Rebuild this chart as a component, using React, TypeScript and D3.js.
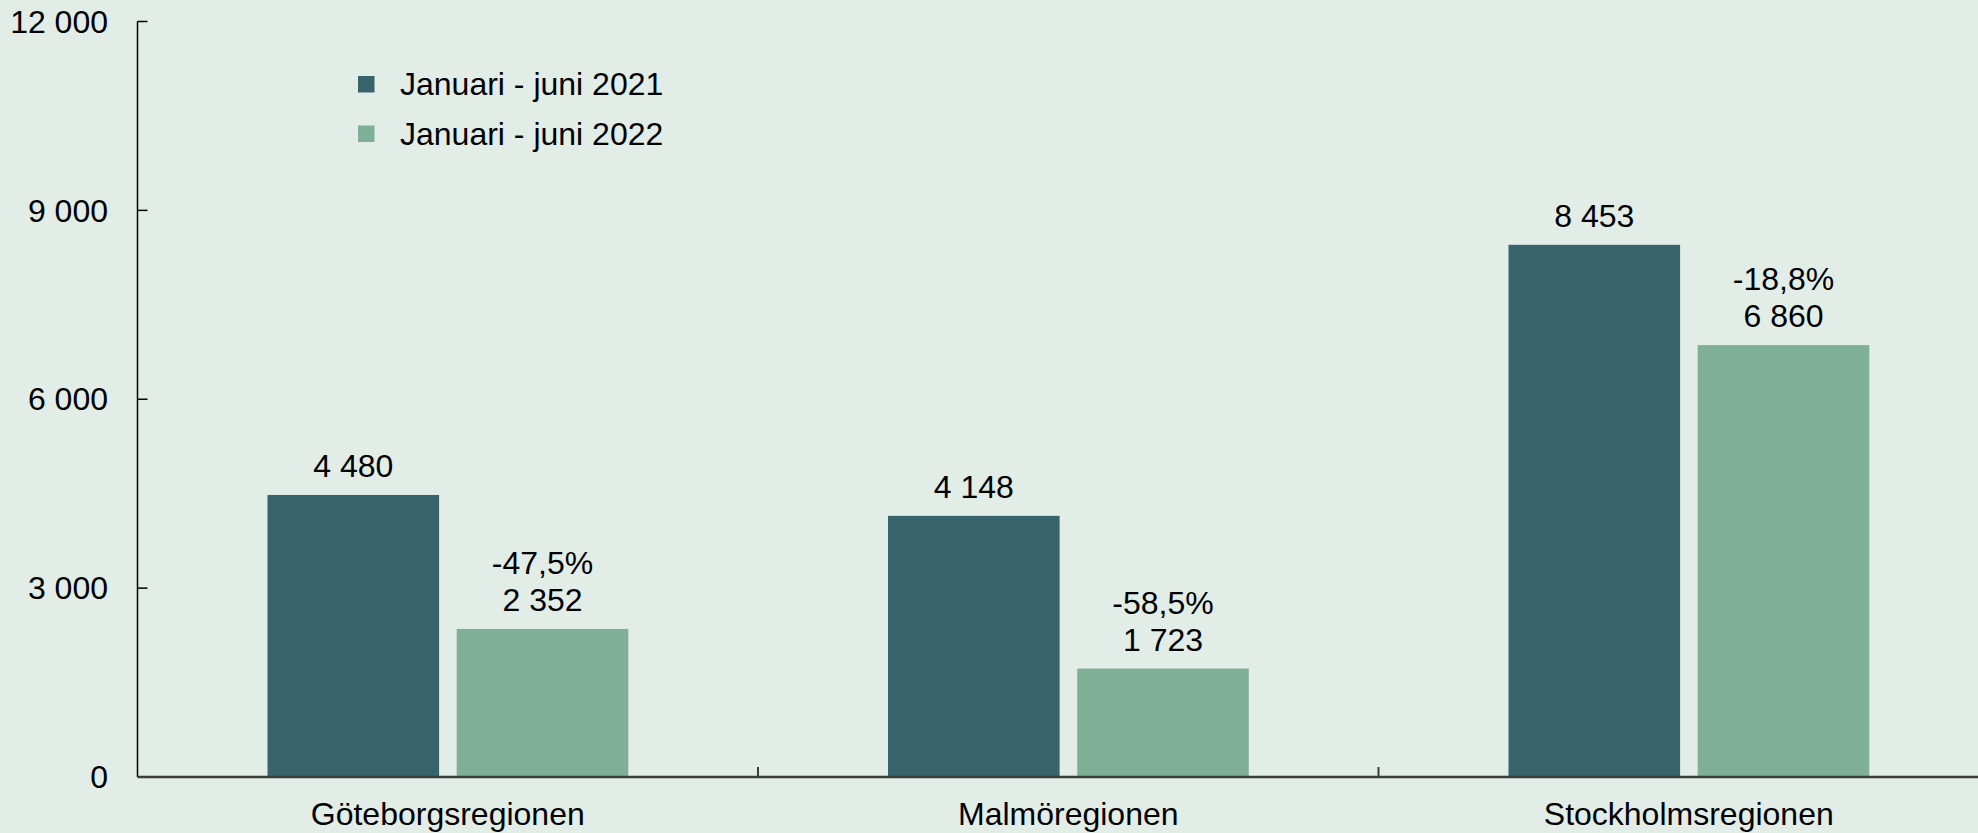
import * as d3 from 'd3';

const categories = ['Göteborgsregionen', 'Malmöregionen', 'Stockholmsregionen'];
const seriesNames = ['Januari - juni 2021', 'Januari - juni 2022'];
const values2021 = [4480, 4148, 8453];
const values2022 = [2352, 1723, 6860];
const changeLabels = ['-47,5%', '-58,5%', '-18,8%'];
const yTicks = [0, 3000, 6000, 9000, 12000];

const W = 1978;
const H = 833;
const BG = '#e3ede7';
const COLORS = ['#36646a', '#7fb097'];
const FONT = '"Liberation Sans", Arial, sans-serif';

const fmt = (v: number) => d3.format(',')(v).replace(/,/g, ' ');

export default function App() {
  const left = 137.5;
  const band = 620.5;
  const x0 = d3.scaleBand<string>()
    .domain(categories)
    .range([left, left + band * categories.length])
    .paddingInner(0)
    .paddingOuter(0);
  const x1 = d3.scaleBand<string>()
    .domain(seriesNames)
    .range([130, 490.8])
    .paddingInner(0.093);
  const y = d3.scaleLinear().domain([0, 12000]).range([777, 21.5]);

  const series = [values2021, values2022];

  return (
    <div style={{ position: 'absolute', left: 0, top: 0 }}>
      <svg width={W} height={H} style={{ display: 'block', fontFamily: FONT }}>
        <rect x={0} y={0} width={W} height={H} fill={BG} />

        {/* bars */}
        {categories.map((c, i) => (
          <g key={c}>
            {series.map((vals, s) => (
              <rect
                key={s}
                x={(x0(c) ?? 0) + (x1(seriesNames[s]) ?? 0)}
                y={y(vals[i])}
                width={x1.bandwidth()}
                height={y(0) - y(vals[i])}
                fill={COLORS[s]}
              />
            ))}
            <text
              x={(x0(c) ?? 0) + (x1(seriesNames[0]) ?? 0) + x1.bandwidth() / 2}
              y={y(values2021[i]) - 18}
              textAnchor="middle"
              fontSize={32}
              fill="#000"
            >
              {fmt(values2021[i])}
            </text>
            <text
              x={(x0(c) ?? 0) + (x1(seriesNames[1]) ?? 0) + x1.bandwidth() / 2}
              y={y(values2022[i]) - 18}
              textAnchor="middle"
              fontSize={32}
              fill="#000"
            >
              {fmt(values2022[i])}
            </text>
            <text
              x={(x0(c) ?? 0) + (x1(seriesNames[1]) ?? 0) + x1.bandwidth() / 2}
              y={y(values2022[i]) - 18 - 37}
              textAnchor="middle"
              fontSize={32}
              fill="#000"
            >
              {changeLabels[i]}
            </text>
            <text
              x={(x0(c) ?? 0) + band / 2}
              y={825}
              textAnchor="middle"
              fontSize={32}
              fill="#000"
            >
              {c}
            </text>
          </g>
        ))}

        {/* y axis */}
        <line x1={left} x2={left} y1={y(12000)} y2={y(0)} stroke="#000" strokeWidth={1.5} />
        {yTicks.map(t => (
          <g key={t}>
            {t > 0 && (
              <line x1={left} x2={left + 10} y1={y(t)} y2={y(t)} stroke="#000" strokeWidth={1.5} />
            )}
            <text x={108} y={y(t)} dy="0.35em" textAnchor="end" fontSize={32} fill="#000">
              {fmt(t)}
            </text>
          </g>
        ))}

        {/* x axis */}
        <line x1={left} x2={W} y1={y(0)} y2={y(0)} stroke="#3a3f3c" strokeWidth={2.5} />
        {categories.slice(1).map(c => (
          <line
            key={c}
            x1={x0(c) ?? 0}
            x2={x0(c) ?? 0}
            y1={y(0)}
            y2={y(0) - 10}
            stroke="#3a3f3c"
            strokeWidth={2}
          />
        ))}

        {/* legend */}
        {seriesNames.map((s, i) => (
          <g key={s} transform={`translate(358, ${76 + i * 49.5})`}>
            <rect x={0} y={0} width={16.5} height={16.5} fill={COLORS[i]} />
            <text x={42} y={8.25} dy="0.35em" fontSize={32} fill="#000">
              {s}
            </text>
          </g>
        ))}
      </svg>
    </div>
  );
}
